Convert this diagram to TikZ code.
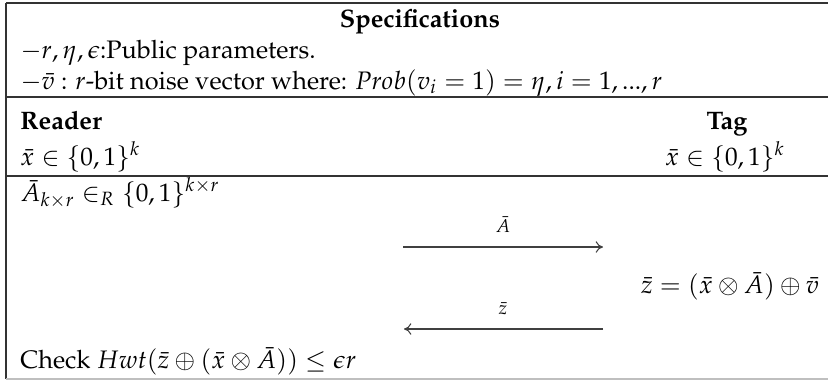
\documentclass[tikz,border=0pt]{standalone}
\usepackage[T1]{fontenc}
\usepackage{mathpazo}
\usetikzlibrary{arrows.meta}
\begin{document}
\begin{tikzpicture}[x=0.4348pt,y=-0.4348pt,
  txt/.style={inner sep=0pt, font=\fontsize{11}{13.6}\selectfont},
  lbl/.style={inner sep=0pt, font=\fontsize{8}{9.6}\selectfont},
  rulel/.style={draw=black!80, line width=0.5pt},
  msg/.style={draw=black!75, line width=0.45pt, -{To[length=3.2pt,width=5pt]}}]
\useasboundingbox (0,0) rectangle (828,380);
% frame and rules
\coordinate (tl) at (6,3);
\coordinate (tr) at (828,3);
\coordinate (bl) at (6,379);
\coordinate (br) at (828,379);
\coordinate (h1l) at (6,97);
\coordinate (h1r) at (828,97);
\coordinate (h2l) at (6,176);
\coordinate (h2r) at (828,176);
\draw[rulel] (tl) -- (tr);
\draw[rulel] (h1l) -- (h1r);
\draw[rulel] (h2l) -- (h2r);
\draw[rulel] (tl) -- (bl);
\draw[draw=black!25, line width=0.5pt] (bl) -- (br);
% texts
\node[txt, anchor=base] (spec) at (420,27) {\textbf{Specifications}};
\node[txt, anchor=base west] (pub) at (20,58) {$-r,\eta,\epsilon$:Public parameters.};
\node[txt, anchor=base west] (noise) at (20,89) {$-\bar{v}$ : $r$-bit noise vector where: $Prob(v_i=1)=\eta, i=1,...,r$};
\node[txt, anchor=base west] (reader) at (20,129) {\textbf{Reader}};
\node[txt, anchor=base] (tag) at (727,129) {\textbf{Tag}};
\node[txt, anchor=base west] (rx) at (20,165) {$\bar{x}\in\{0,1\}^k$};
\node[txt, anchor=base] (tx) at (725,165) {$\bar{x}\in\{0,1\}^k$};
\node[txt, anchor=base west] (ra) at (20,201) {$\bar{A}_{k\times r}\in_R\{0,1\}^{k\times r}$};
\node[lbl, anchor=base] (la) at (503,232) {$\bar{A}$};
\node[txt, anchor=base] (tz) at (730,293) {$\bar{z}=\left(\bar{x}\otimes\bar{A}\right)\oplus\bar{v}$};
\node[lbl, anchor=base] (lz) at (503,314) {$\bar{z}$};
\node[txt, anchor=base west] (chk) at (20,368) {Check $Hwt(\bar{z}\oplus\left(\bar{x}\otimes\bar{A}\right))\leq\epsilon r$};
% messages
\coordinate (a1s) at (403,247);
\coordinate (a1e) at (603,247);
\coordinate (a2s) at (603,329);
\coordinate (a2e) at (404,329);
\draw[msg] (a1s) -- (a1e);
\draw[msg] (a2s) -- (a2e);
\end{tikzpicture}
\end{document}
